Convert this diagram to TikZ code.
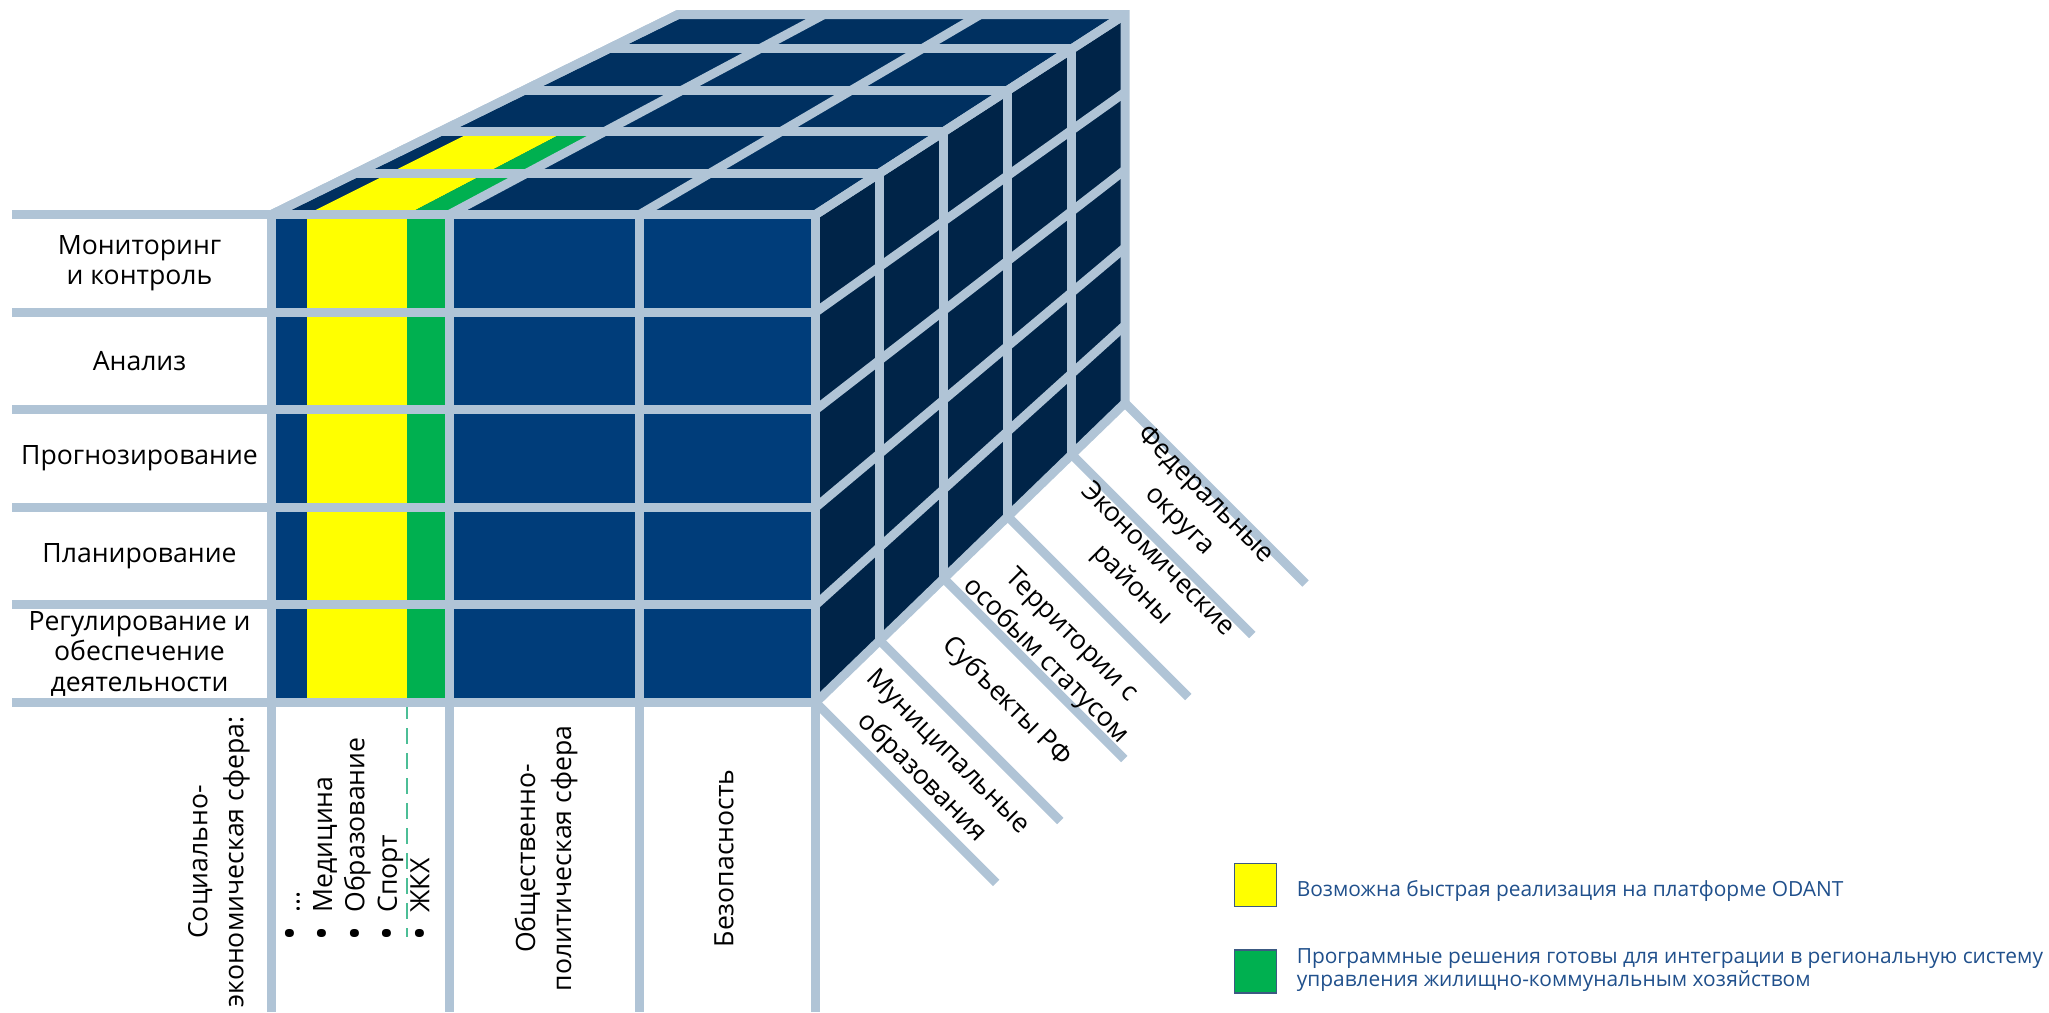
\documentclass[tikz,border=0pt]{standalone}
\usepackage{fontspec}
\usepackage{graphicx}
\setmainfont{Open Sans}
\definecolor{gridc}{RGB}{176,196,214}
\definecolor{frontc}{RGB}{0,61,122}
\definecolor{topc}{RGB}{0,48,96}
\definecolor{sidec}{RGB}{0,36,72}
\definecolor{yel}{RGB}{255,255,0}
\definecolor{grn}{RGB}{0,176,80}
\definecolor{dashc}{RGB}{76,190,150}
\definecolor{legc}{RGB}{32,80,140}
\definecolor{legborder}{RGB}{60,90,130}
\pgfmathdeclarefunction{px}{2}{\pgfmathparse{#2+#1*(678+0.8217*(#2-271.7)-#2)}}
\pgfmathdeclarefunction{py}{2}{\pgfmathparse{#2+#1*(14.5+0.7961*(#2-214.5)-#2)}}
\newcommand\blt{\raisebox{-0.14em}{\scalebox{1.4}{•}}\hspace{7pt}}
\begin{document}
\begin{tikzpicture}[x=0.5pt,y=-0.5pt,
  gl/.style={draw=gridc, line width=4.5pt},
  lbl/.style={font=\fontsize{13.3}{15.3}\selectfont, align=center, inner sep=0pt},
  blbl/.style={font=\fontsize{13.3}{18}\selectfont, align=center, inner sep=0pt, rotate=90},
  rlbl/.style={font=\fontsize{13.3}{18}\selectfont, align=center, inner sep=0pt, rotate=-45},
  leg/.style={font=\fontsize{10.45}{11.7}\selectfont, text=legc, inner sep=0pt, anchor=base west},
  legbox/.style={draw=legborder, line width=0.6pt, minimum width=21pt, minimum height=21.5pt, inner sep=0pt, anchor=north west}
]
\useasboundingbox (0,0) rectangle (2049,1012);

% front face
\fill[frontc] (271.7,214.5) rectangle (815.7,702.5);
\fill[yel] (306.7,214.5) rectangle (407,702.5);
\fill[grn] (407,214.5) rectangle (449.3,702.5);
% top face
\fill[topc] (271.7,214.5) -- (815.7,214.5) -- (1125,14.5) -- (678,14.5) -- cycle;
\fill[yel] (306.7,214.5) -- (407,214.5) -- ({px(0.414,407)},{py(0.414,214.5)}) -- ({px(0.414,306.7)},{py(0.414,214.5)}) -- cycle;
\fill[grn] (407,214.5) -- (449.3,214.5) -- ({px(0.414,449.3)},{py(0.414,214.5)}) -- ({px(0.414,407)},{py(0.414,214.5)}) -- cycle;
% side face
\fill[sidec] (815.7,214.5) -- (1125,14.5) -- (1125,403) -- (815.7,702.5) -- cycle;

% dashed separator
\draw[dashc, line width=1.25pt, dash pattern=on 8pt off 4.5pt] (407,703) -- (407,937);

% grid lines
\foreach \y in {214.5,312.1,409.7,507.3,604.9,702.5} {
  \draw[gl] (12,\y) -- (815.7,\y);
  \draw[gl] (815.7,\y) -- ({px(1,815.7)},{py(1,\y)});
}
\foreach \x in {271.7,449.3,639.7,815.7} {
  \draw[gl] (\x,214.5) -- (\x,1012);
  \draw[gl] (\x,214.5) -- ({px(1,\x)},14.5);
}
\foreach \t in {0.207,0.414,0.621,0.828} {
  \draw[gl] ({px(\t,271.7)},{py(\t,214.5)}) -- ({px(\t,815.7)},{py(\t,214.5)});
  \draw[gl] ({px(\t,815.7)},{py(\t,214.5)}) -- ({px(\t,815.7)},{py(\t,702.5)});
}
\draw[gl] (271.7,214.5) -- (678,14.5) -- (1125,14.5) -- (1125,403);
\foreach \t in {0,0.207,0.414,0.621,0.828,1} {
  \draw[gl] ({px(\t,815.7)},{py(\t,702.5)}) -- ++(180.5,180.5);
}

% row labels
\node[lbl] (mon) at (139.5,263.3) {Мониторинг\\и контроль};
\node[lbl] (ana) at (139.5,360.9) {Анализ};
\node[lbl] (pro) at (139.5,458.5) {Прогнозирование};
\node[lbl] (pla) at (139.5,556.1) {Планирование};
\node[lbl] (reg) at (139.5,653.7) {Регулирование и\\обеспечение\\деятельности};

% column labels
\node[blbl] (soc) at (219,862) {Социально-\\экономическая сфера:};
\node[font=\fontsize{13.3}{16.2}\selectfont, rotate=90, anchor=west, inner sep=0pt] (lst) at (358,941)
  {\begin{tabular}{@{}l@{}}\blt...\\\blt Медицина\\\blt Образование\\\blt Спорт\\\blt ЖКХ\end{tabular}};
\node[blbl] (obs) at (546,858.5) {Общественно-\\политическая сфера};
\node[blbl] (bez) at (724,858.3) {Безопасность};

% depth labels
\node[rlbl] (mun) at (934.3,765.7) {Муниципальные\\образования};
\node[rlbl] (sub) at (1006.6,702) {Субъекты РФ};
\node[rlbl] (ter) at (1058.3,648.6) {Территории с\\особым статусом};
\node[rlbl] (eko) at (1144.4,572.8) {Экономические\\районы};
\node[rlbl] (fed) at (1192,508) {Федеральные\\округа};

% legend
\node[legbox, fill=yel] (ly) at (1234,863) {};
\node[legbox, fill=grn] (lg) at (1234,949.3) {};
\node[leg] (lyt) at (1296.4,896.7) {Возможна быстрая реализация на платформе ODANT};
\node[leg] (lgt) at (1296.4,963.3) {\begin{tabular}[t]{@{}l@{}}Программные решения готовы для интеграции в региональную систему\\управления жилищно-коммунальным хозяйством\end{tabular}};
\end{tikzpicture}
\end{document}
